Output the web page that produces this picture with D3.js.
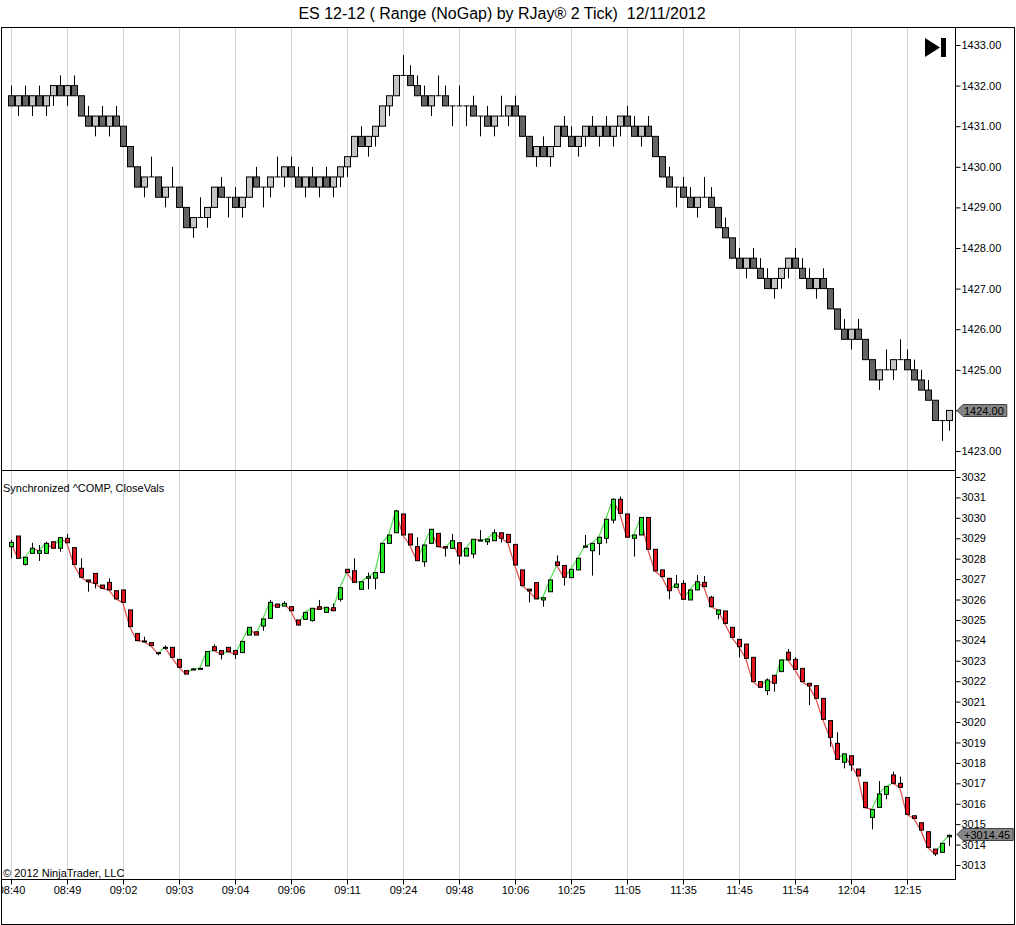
<!DOCTYPE html>
<html>
<head>
<meta charset="utf-8">
<script src="https://cdn.jsdelivr.net/npm/d3@7"></script>
<style>
  body { margin: 0; background: #fff; }
  svg { display: block; font-family: Arial, "Liberation Sans", sans-serif; }
</style>
</head>
<body>
<svg width="1016" height="925"></svg>
<script>
// ES 12-12 range bars (2 tick)
const esOpen = [
  1431.75, 1431.5, 1431.75, 1431.5, 1431.75, 1431.5, 1431.75, 1432, 1431.75, 1432,
  1431.75, 1431.25, 1431, 1431.25, 1431, 1431.25, 1431, 1430.5, 1430, 1429.5,
  1429.75, 1429.75, 1429.25, 1429.5, 1429.5, 1429, 1428.5, 1428.75, 1428.75, 1429,
  1429.5, 1429.25, 1429.25, 1429, 1429.25, 1429.75, 1429.5, 1429.5, 1429.75, 1429.75,
  1430, 1429.75, 1429.5, 1429.75, 1429.5, 1429.75, 1429.5, 1429.75, 1430, 1430.25,
  1430.75, 1430.5, 1430.75, 1431, 1431.5, 1431.75, 1432.25, 1432.25, 1432, 1431.75,
  1431.5, 1431.75, 1431.75, 1431.5, 1431.5, 1431.5, 1431.5, 1431.25, 1431.25, 1431,
  1431.25, 1431.25, 1431.5, 1431.25, 1430.75, 1430.25, 1430.5, 1430.25, 1430.5, 1431,
  1430.75, 1430.5, 1430.75, 1431, 1430.75, 1431, 1430.75, 1431, 1431.25, 1431,
  1430.75, 1431, 1430.75, 1430.25, 1429.75, 1429.5, 1429.5, 1429.25, 1429, 1429.25,
  1429.25, 1429, 1428.5, 1428.25, 1427.75, 1427.5, 1427.75, 1427.5, 1427.25, 1427,
  1427.25, 1427.5, 1427.75, 1427.5, 1427.25, 1427, 1427.25, 1427, 1426.5, 1426,
  1425.75, 1426, 1425.75, 1425.25, 1424.75, 1425, 1425, 1425.25, 1425.25, 1425,
  1424.75, 1424.5, 1424.25, 1423.75, 1423.75
];
const esHigh = [
  1432, 1431.75, 1432, 1431.75, 1432, 1431.75, 1432, 1432.25, 1432, 1432.25,
  1431.75, 1431.5, 1431.25, 1431.5, 1431.25, 1431.5, 1431, 1430.5, 1430, 1429.75,
  1430.25, 1429.75, 1429.5, 1430, 1429.5, 1429, 1428.75, 1429.25, 1429, 1429.5,
  1429.75, 1429.25, 1429.5, 1429.25, 1429.75, 1430, 1429.5, 1429.75, 1430.25, 1430,
  1430.25, 1430, 1429.75, 1430, 1429.75, 1430, 1429.75, 1430, 1430.25, 1430.75,
  1431, 1430.75, 1431, 1431.5, 1431.75, 1432.25, 1432.75, 1432.5, 1432.25, 1432,
  1431.75, 1432.25, 1432, 1431.5, 1432, 1431.5, 1431.75, 1431.25, 1431.5, 1431.25,
  1431.75, 1431.5, 1431.75, 1431.25, 1430.75, 1430.5, 1430.75, 1430.5, 1431, 1431.25,
  1431, 1430.75, 1431, 1431.25, 1431, 1431.25, 1431, 1431.25, 1431.5, 1431.25,
  1431, 1431.25, 1430.75, 1430.25, 1430, 1429.5, 1429.75, 1429.5, 1429.25, 1429.75,
  1429.5, 1429, 1428.75, 1428.25, 1428, 1427.75, 1428, 1427.75, 1427.5, 1427.25,
  1427.5, 1427.75, 1428, 1427.75, 1427.5, 1427.25, 1427.5, 1427, 1426.5, 1426.25,
  1426, 1426.25, 1425.75, 1425.25, 1425, 1425.5, 1425.25, 1425.75, 1425.5, 1425.25,
  1425, 1424.75, 1424.25, 1423.75, 1424
];
const esLow = [
  1431.5, 1431.25, 1431.5, 1431.25, 1431.5, 1431.25, 1431.5, 1431.75, 1431.5, 1431.75,
  1431.25, 1431, 1430.75, 1431, 1430.75, 1431, 1430.5, 1430, 1429.5, 1429.25,
  1429.75, 1429.25, 1429, 1429.5, 1429, 1428.5, 1428.25, 1428.75, 1428.5, 1429,
  1429.25, 1428.75, 1429, 1428.75, 1429.25, 1429.5, 1429, 1429.25, 1429.75, 1429.5,
  1429.75, 1429.5, 1429.25, 1429.5, 1429.25, 1429.5, 1429.25, 1429.5, 1429.75, 1430.25,
  1430.5, 1430.25, 1430.5, 1431, 1431.25, 1431.75, 1432.25, 1432, 1431.75, 1431.5,
  1431.25, 1431.75, 1431.5, 1431, 1431.5, 1431, 1431.25, 1430.75, 1431, 1430.75,
  1431.25, 1431, 1431.25, 1430.75, 1430.25, 1430, 1430.25, 1430, 1430.5, 1430.75,
  1430.5, 1430.25, 1430.5, 1430.75, 1430.5, 1430.75, 1430.5, 1430.75, 1431, 1430.75,
  1430.5, 1430.75, 1430.25, 1429.75, 1429.5, 1429, 1429.25, 1429, 1428.75, 1429.25,
  1429, 1428.5, 1428.25, 1427.75, 1427.5, 1427.25, 1427.5, 1427.25, 1427, 1426.75,
  1427, 1427.25, 1427.5, 1427.25, 1427, 1426.75, 1427, 1426.5, 1426, 1425.75,
  1425.5, 1425.75, 1425.25, 1424.75, 1424.5, 1425, 1424.75, 1425.25, 1425, 1424.75,
  1424.5, 1424.25, 1423.75, 1423.25, 1423.5
];
const esClose = [
  1431.5, 1431.75, 1431.5, 1431.75, 1431.5, 1431.75, 1432, 1431.75, 1432, 1431.75,
  1431.25, 1431, 1431.25, 1431, 1431.25, 1431, 1430.5, 1430, 1429.5, 1429.75,
  1429.75, 1429.25, 1429.5, 1429.5, 1429, 1428.5, 1428.75, 1428.75, 1429, 1429.5,
  1429.25, 1429.25, 1429, 1429.25, 1429.75, 1429.5, 1429.5, 1429.75, 1429.75, 1430,
  1429.75, 1429.5, 1429.75, 1429.5, 1429.75, 1429.5, 1429.75, 1430, 1430.25, 1430.75,
  1430.5, 1430.75, 1431, 1431.5, 1431.75, 1432.25, 1432.25, 1432, 1431.75, 1431.5,
  1431.75, 1431.75, 1431.5, 1431.5, 1431.5, 1431.5, 1431.25, 1431.25, 1431, 1431.25,
  1431.25, 1431.5, 1431.25, 1430.75, 1430.25, 1430.5, 1430.25, 1430.5, 1431, 1430.75,
  1430.5, 1430.75, 1431, 1430.75, 1431, 1430.75, 1431, 1431.25, 1431, 1430.75,
  1431, 1430.75, 1430.25, 1429.75, 1429.5, 1429.5, 1429.25, 1429, 1429.25, 1429.25,
  1429, 1428.5, 1428.25, 1427.75, 1427.5, 1427.75, 1427.5, 1427.25, 1427, 1427.25,
  1427.5, 1427.75, 1427.5, 1427.25, 1427, 1427.25, 1427, 1426.5, 1426, 1425.75,
  1426, 1425.75, 1425.25, 1424.75, 1425, 1425, 1425.25, 1425.25, 1425, 1424.75,
  1424.5, 1424.25, 1423.75, 1423.75, 1424
];

// Synchronized ^COMP values on the same bars
const compOpen = [
  3028.59, 3029.11, 3027.72, 3028.26, 3028.26, 3028.26, 3028.83, 3028.51, 3029.00, 3028.54,
  3027.53, 3026.96, 3027.28, 3026.71, 3026.84, 3026.43, 3026.47, 3025.49, 3024.34, 3023.97,
  3023.89, 3023.40, 3023.61, 3023.66, 3023.07, 3022.52, 3022.55, 3022.60, 3022.75, 3023.69,
  3023.50, 3023.66, 3023.50, 3023.40, 3024.26, 3024.42, 3024.70, 3025.08, 3025.78, 3025.68,
  3025.65, 3025.00, 3025.03, 3024.97, 3025.65, 3025.37, 3025.60, 3026.01, 3027.48, 3027.41,
  3026.50, 3027.04, 3027.04, 3027.32, 3028.75, 3029.27, 3030.19, 3029.21, 3028.59, 3027.85,
  3028.75, 3029.24, 3028.59, 3028.51, 3028.78, 3028.13, 3028.23, 3028.89, 3028.83, 3028.88,
  3029.27, 3029.19, 3028.70, 3027.45, 3026.51, 3026.83, 3025.98, 3026.38, 3027.84, 3027.67,
  3027.07, 3027.45, 3028.56, 3028.39, 3028.75, 3029.00, 3029.89, 3030.91, 3030.19, 3029.00,
  3029.16, 3030.02, 3028.46, 3027.45, 3027.04, 3026.60, 3026.79, 3025.98, 3026.47, 3026.84,
  3026.11, 3025.28, 3025.44, 3024.64, 3024.05, 3023.82, 3023.17, 3021.98, 3021.54, 3022.29,
  3022.47, 3023.42, 3023.07, 3022.63, 3021.90, 3021.78, 3021.16, 3020.07, 3018.96, 3018.03,
  3018.35, 3017.70, 3017.05, 3015.33, 3015.82, 3016.46, 3017.41, 3017.00, 3016.31, 3015.41,
  3015.07, 3014.63, 3013.78, 3013.62, 3014.38
];
const compHigh = [
  3028.92, 3029.11, 3028.07, 3028.78, 3028.67, 3028.83, 3028.83, 3029.03, 3029.21, 3028.54,
  3028.02, 3026.96, 3027.28, 3026.71, 3027.04, 3026.43, 3026.47, 3025.49, 3024.34, 3024.18,
  3023.89, 3023.40, 3023.75, 3023.66, 3023.07, 3022.52, 3022.62, 3022.65, 3023.45, 3023.80,
  3023.50, 3023.66, 3023.50, 3023.95, 3024.64, 3024.42, 3025.05, 3025.98, 3025.78, 3025.92,
  3025.65, 3025.00, 3025.37, 3025.57, 3025.98, 3025.62, 3025.81, 3026.58, 3027.48, 3028.02,
  3026.87, 3027.32, 3027.32, 3028.75, 3029.16, 3030.39, 3030.19, 3029.21, 3029.05, 3028.67,
  3029.44, 3029.24, 3028.59, 3029.21, 3028.78, 3028.51, 3028.95, 3029.40, 3028.96, 3029.44,
  3029.27, 3029.19, 3028.70, 3027.45, 3026.51, 3026.83, 3026.09, 3026.96, 3028.16, 3027.67,
  3027.48, 3028.02, 3029.16, 3028.75, 3029.05, 3029.93, 3030.96, 3031.04, 3030.19, 3029.16,
  3030.02, 3030.02, 3028.46, 3027.45, 3027.04, 3027.20, 3026.95, 3026.47, 3027.20, 3027.15,
  3026.18, 3025.49, 3025.44, 3024.64, 3024.05, 3023.82, 3023.17, 3021.98, 3022.14, 3022.29,
  3023.04, 3023.58, 3023.17, 3022.63, 3021.90, 3021.78, 3021.16, 3020.07, 3019.50, 3018.44,
  3018.35, 3017.70, 3017.05, 3015.72, 3017.11, 3016.84, 3017.57, 3017.33, 3016.31, 3015.41,
  3015.07, 3014.63, 3013.78, 3014.06, 3014.50
];
const compLow = [
  3028.02, 3028.02, 3027.66, 3028.26, 3027.89, 3028.26, 3028.51, 3028.34, 3028.78, 3027.72,
  3027.09, 3026.38, 3026.55, 3026.55, 3026.47, 3026.03, 3025.86, 3024.67, 3023.99, 3023.93,
  3023.74, 3023.27, 3023.56, 3023.17, 3022.68, 3022.35, 3022.55, 3022.60, 3022.75, 3023.50,
  3023.07, 3023.45, 3023.09, 3023.40, 3024.26, 3024.26, 3024.47, 3025.08, 3025.62, 3025.68,
  3025.45, 3024.75, 3025.03, 3024.92, 3025.52, 3025.37, 3025.45, 3025.90, 3027.32, 3026.84,
  3026.50, 3026.50, 3026.50, 3027.32, 3028.75, 3029.27, 3029.16, 3028.67, 3027.90, 3027.61,
  3028.75, 3028.59, 3028.10, 3028.51, 3027.72, 3028.13, 3028.02, 3028.89, 3028.67, 3028.88,
  3028.79, 3028.79, 3027.69, 3026.68, 3025.86, 3026.03, 3025.65, 3026.38, 3027.67, 3026.68,
  3027.07, 3027.45, 3028.56, 3027.17, 3028.18, 3028.75, 3029.73, 3030.22, 3029.05, 3028.10,
  3029.16, 3028.46, 3027.40, 3027.12, 3026.01, 3026.60, 3026.01, 3025.98, 3026.47, 3026.63,
  3025.65, 3025.03, 3024.83, 3024.15, 3023.17, 3023.12, 3021.98, 3021.70, 3021.32, 3021.49,
  3022.47, 3023.04, 3022.58, 3021.98, 3020.83, 3021.16, 3020.13, 3018.79, 3018.17, 3017.73,
  3017.60, 3017.36, 3015.81, 3014.75, 3015.82, 3016.22, 3017.00, 3016.80, 3015.48, 3015.28,
  3014.71, 3013.86, 3013.44, 3013.62, 3013.93
];
const compClose = [
  3028.80, 3028.02, 3028.07, 3028.51, 3028.39, 3028.75, 3028.51, 3029.03, 3028.78, 3027.72,
  3027.09, 3026.87, 3026.79, 3026.55, 3026.47, 3026.03, 3025.86, 3024.67, 3023.99, 3023.95,
  3023.74, 3023.35, 3023.66, 3023.17, 3022.68, 3022.35, 3022.60, 3022.63, 3023.45, 3023.50,
  3023.32, 3023.45, 3023.32, 3023.95, 3024.64, 3024.26, 3025.05, 3025.86, 3025.62, 3025.81,
  3025.45, 3024.75, 3025.37, 3025.57, 3025.52, 3025.62, 3025.45, 3026.58, 3027.32, 3026.84,
  3026.87, 3027.12, 3027.32, 3028.75, 3029.16, 3030.34, 3029.16, 3028.67, 3027.90, 3028.67,
  3029.44, 3028.59, 3028.52, 3028.88, 3028.13, 3028.51, 3028.95, 3028.91, 3028.96, 3029.27,
  3029.00, 3028.79, 3027.69, 3026.68, 3026.42, 3026.03, 3026.09, 3026.96, 3027.67, 3027.09,
  3027.48, 3028.02, 3028.62, 3028.75, 3029.05, 3029.93, 3030.91, 3030.22, 3029.05, 3029.16,
  3030.02, 3028.46, 3027.40, 3027.12, 3026.43, 3026.76, 3026.01, 3026.47, 3026.87, 3026.63,
  3025.65, 3025.49, 3024.83, 3024.15, 3023.69, 3023.12, 3021.98, 3021.70, 3022.06, 3021.90,
  3023.04, 3023.04, 3022.58, 3021.98, 3021.77, 3021.16, 3020.13, 3019.25, 3018.17, 3018.44,
  3017.90, 3017.36, 3015.81, 3015.72, 3016.48, 3016.84, 3017.00, 3016.80, 3015.48, 3015.28,
  3014.71, 3013.86, 3013.54, 3014.06, 3014.45
];

// Time labels every 8 bars
const timeLabels = ["08:40", "08:49", "09:02", "09:03", "09:04", "09:06", "09:11", "09:24", "09:48",
  "10:06", "10:25", "11:05", "11:35", "11:45", "11:54", "12:04", "12:15"];
const esTicks = [1423, 1424, 1425, 1426, 1427, 1428, 1429, 1430, 1431, 1432, 1433];
const compTicks = d3.range(3013, 3033);

const svg = d3.select("svg");
const axisX = 955;
const fontFam = "Arial, 'Liberation Sans', sans-serif";

const x = d3.scaleLinear().domain([0, esClose.length - 1]).range([10.7, 948.7]);
const yTop = d3.scaleLinear().domain([1423, 1433]).range([451, 45]);
const yBot = d3.scaleLinear().domain([3013, 3032]).range([865, 477]);

const lastEs = esClose[esClose.length - 1];
const lastComp = compClose[compClose.length - 1];

// title
svg.append("text")
  .attr("x", 502).attr("y", 19)
  .attr("text-anchor", "middle")
  .attr("font-size", 16)
  .style("white-space", "pre")
  .text("ES 12-12 ( Range (NoGap) by RJay\u00AE 2 Tick)  12/11/2012");

svg.append("defs").append("clipPath").attr("id", "plot")
  .append("rect").attr("x", 2).attr("y", 28).attr("width", axisX - 2).attr("height", 851);

const plot = svg.append("g").attr("clip-path", "url(#plot)");

// vertical grid lines
const gridIdx = timeLabels.map((d, i) => i * 8);
const px = (v) => Math.round(v) + 0.5;

plot.selectAll(".grid")
  .data(gridIdx)
  .enter()
  .append("line")
  .attr("x1", (d) => px(x(d)))
  .attr("x2", (d) => px(x(d)))
  .attr("y1", 28).attr("y2", 879)
  .attr("stroke", "#d3d3d3");

// top panel: range bars
const es = esClose.map((c, i) => ({ i, o: esOpen[i], h: esHigh[i], l: esLow[i], c }));

plot.selectAll(".eswick")
  .data(es)
  .enter()
  .append("line")
  .attr("x1", (d) => px(x(d.i))).attr("x2", (d) => px(x(d.i)))
  .attr("y1", (d) => yTop(d.h)).attr("y2", (d) => yTop(d.l))
  .attr("stroke", "#000");

plot.selectAll(".esbody")
  .data(es.filter((d) => d.o !== d.c))
  .enter()
  .append("rect")
  .attr("x", (d) => px(x(d.i)) - 3)
  .attr("y", (d) => yTop(Math.max(d.o, d.c)))
  .attr("width", 6)
  .attr("height", (d) => Math.abs(yTop(d.o) - yTop(d.c)))
  .attr("fill", (d) => (d.c > d.o ? "#c4c4c4" : "#646464"))
  .attr("stroke", "#000");

plot.selectAll(".esdoji")
  .data(es.filter((d) => d.o === d.c))
  .enter()
  .append("line")
  .attr("x1", (d) => px(x(d.i)) - 3).attr("x2", (d) => px(x(d.i)) + 3)
  .attr("y1", (d) => yTop(d.c)).attr("y2", (d) => yTop(d.c))
  .attr("stroke", "#000");

// bottom panel: ^COMP candles with close line
const comp = compClose.map((c, i) => ({ i, o: compOpen[i], h: compHigh[i], l: compLow[i], c }));

plot.selectAll(".compline")
  .data(comp.slice(1))
  .enter()
  .append("line")
  .attr("x1", (d) => x(d.i - 1)).attr("x2", (d) => x(d.i))
  .attr("y1", (d) => yBot(compClose[d.i - 1])).attr("y2", (d) => yBot(d.c))
  .attr("stroke", (d) => (d.c >= compClose[d.i - 1] ? "#4fe04f" : "#e44848"))
  .attr("stroke-width", 1.2);

plot.selectAll(".compwick")
  .data(comp)
  .enter()
  .append("line")
  .attr("x1", (d) => px(x(d.i))).attr("x2", (d) => px(x(d.i)))
  .attr("y1", (d) => yBot(d.h)).attr("y2", (d) => yBot(d.l))
  .attr("stroke", "#000");

plot.selectAll(".compbody")
  .data(comp)
  .enter()
  .append("rect")
  .attr("x", (d) => px(x(d.i)) - 2)
  .attr("y", (d) => yBot(Math.max(d.o, d.c)))
  .attr("width", 4)
  .attr("height", (d) => Math.max(1, Math.abs(yBot(d.o) - yBot(d.c))))
  .attr("fill", (d) => (d.c >= d.o ? "#22e622" : "#e0141a"))
  .attr("stroke", "#000");

// panel labels
svg.append("text").attr("x", 3).attr("y", 492).attr("font-size", 11)
  .text("Synchronized ^COMP, CloseVals");
svg.append("text").attr("x", 3).attr("y", 877).attr("font-size", 11)
  .text("\u00A9 2012 NinjaTrader, LLC");

// go-to-end icon
svg.append("path").attr("d", "M925,38 L940,47.5 L925,57 Z").attr("fill", "#000");
svg.append("rect").attr("x", 941).attr("y", 38).attr("width", 5).attr("height", 19).attr("fill", "#000");

// right axes (the 1424 label sits under the last-price tag)
const topAxis = svg.append("g")
  .attr("transform", `translate(${axisX + 0.5},0)`)
  .call(d3.axisRight(yTop).tickValues(esTicks).tickSize(5).tickPadding(1)
    .tickFormat((d) => (d === Math.round(lastEs) ? "" : d3.format(".2f")(d))));
const botAxis = svg.append("g")
  .attr("transform", `translate(${axisX + 0.5},0)`)
  .call(d3.axisRight(yBot).tickValues(compTicks).tickSize(5).tickPadding(1).tickFormat(d3.format("d")));
[topAxis, botAxis].forEach((g) => {
  g.select(".domain").remove();
  g.selectAll("text").attr("font-size", 11).attr("font-family", fontFam).attr("fill", "#000");
  g.selectAll("line").attr("stroke", "#000");
});

// time axis
const timeAxis = svg.append("g")
  .attr("transform", "translate(0,879.5)")
  .call(d3.axisBottom(x).tickValues(gridIdx).tickSize(5).tickPadding(2)
    .tickFormat((d, i) => timeLabels[i]));
timeAxis.select(".domain").remove();
timeAxis.selectAll("text").attr("font-size", 11).attr("font-family", fontFam).attr("fill", "#000");
timeAxis.selectAll(".tick").attr("transform", (d) => `translate(${px(x(d))},0)`);
timeAxis.selectAll("line").attr("stroke", "#000");
svg.append("rect").attr("x", 0).attr("y", 880).attr("width", 2).attr("height", 40).attr("fill", "#fff");

// frame and panel separators
const frame = svg.append("g").attr("stroke", "#000").attr("fill", "none");
frame.append("line").attr("x1", 1).attr("x2", 1015).attr("y1", 27.5).attr("y2", 27.5);
frame.append("line").attr("x1", 1).attr("x2", axisX + 1).attr("y1", 470.5).attr("y2", 470.5);
frame.append("line").attr("x1", 1).attr("x2", axisX + 1).attr("y1", 879.5).attr("y2", 879.5);
frame.append("line").attr("x1", 1).attr("x2", 1015).attr("y1", 924.5).attr("y2", 924.5);
frame.append("line").attr("x1", 1.5).attr("x2", 1.5).attr("y1", 27).attr("y2", 925);
frame.append("line").attr("x1", 1014.5).attr("x2", 1014.5).attr("y1", 27).attr("y2", 925);
frame.append("line").attr("x1", axisX + 0.5).attr("x2", axisX + 0.5).attr("y1", 27).attr("y2", 880);

// last price markers
function priceTag(y, label) {
  const g = svg.append("g").attr("transform", `translate(957,${Math.round(y) + 0.5})`);
  const path = g.append("path")
    .attr("fill", "#858585")
    .attr("stroke", "#404040");
  const t = g.append("text").attr("x", 7).attr("y", 4).attr("font-size", 11)
    .attr("font-family", fontFam).attr("fill", "#000").text(label);
  const w = t.node().getComputedTextLength() + 10;
  path.attr("d", `M0,0 L6,-6 L${w},-6 L${w},6 L6,6 Z`);
}
priceTag(yTop(lastEs), d3.format(".2f")(lastEs));
priceTag(yBot(lastComp) - 1, "+" + d3.format(".2f")(lastComp));
</script>
</body>
</html>
